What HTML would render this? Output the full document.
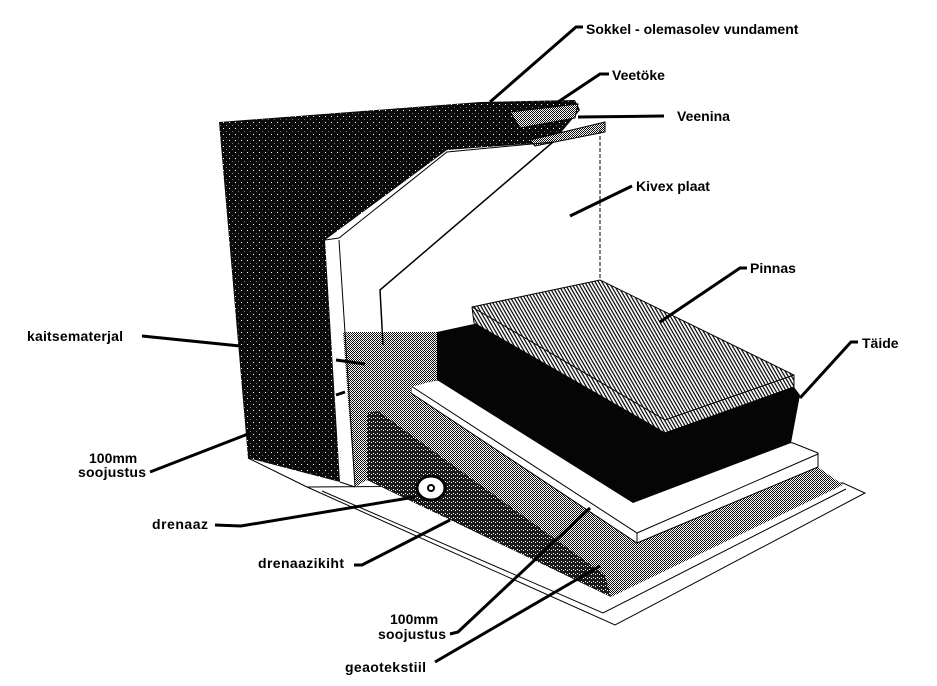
<!DOCTYPE html>
<html><head><meta charset="utf-8"><style>
html,body{margin:0;padding:0;background:#fff;}
svg{display:block;}
text{font-family:"Liberation Sans",Arial,sans-serif;font-weight:bold;font-size:14px;fill:#000;}
</style></head><body>
<svg width="937" height="686" viewBox="0 0 937 686" xmlns="http://www.w3.org/2000/svg">
<defs>
<pattern id="dk" width="6" height="6" patternUnits="userSpaceOnUse">
<rect width="6" height="6" fill="#0a0a0a"/><rect x="1" y="2" width="1" height="1" fill="#fff"/><rect x="4" y="5" width="1" height="1" fill="#777"/>
</pattern>
<pattern id="gr" width="4" height="4" patternUnits="userSpaceOnUse">
<rect width="4" height="4" fill="#fff"/><rect x="0" y="0" width="1" height="1" fill="#000"/><rect x="2" y="0" width="1" height="1" fill="#000"/><rect x="1" y="1" width="1" height="1" fill="#000"/><rect x="3" y="1" width="1" height="1" fill="#222"/><rect x="0" y="2" width="1" height="1" fill="#000"/><rect x="2" y="2" width="1" height="1" fill="#333"/><rect x="1" y="3" width="1" height="1" fill="#000"/><rect x="3" y="3" width="1" height="1" fill="#000"/>
</pattern>
<pattern id="dg" width="4" height="4" patternUnits="userSpaceOnUse">
<rect width="4" height="4" fill="#1a1a1a"/><rect x="1" y="1" width="1" height="1" fill="#fff"/><rect x="3" y="2" width="1" height="1" fill="#fff"/>
</pattern>
<pattern id="ht" width="3" height="3" patternUnits="userSpaceOnUse" patternTransform="rotate(60)">
<rect width="3" height="3" fill="#fff"/><rect width="3" height="1.2" fill="#000"/>
</pattern>
</defs>

<polygon points="307,487 615,625 865,493 843,483" fill="none" stroke="#000" stroke-width="1"/>
<polyline points="322,491 603,613 846,489" fill="none" stroke="#000" stroke-width="1"/>

<polygon points="367,412 411,402 411,393 637,543 818,467 843,485 611,597 367,480" fill="url(#gr)"/>
<polygon points="367,413 378,411 605,575 611,597 367,480" fill="url(#dg)"/>
<polygon points="411,385 437,380 793,443 818,453 818,467 637,543 411,393" fill="#fff" stroke="#000" stroke-width="1"/>
<line x1="411" y1="386" x2="637" y2="533" stroke="#000"/>
<line x1="637" y1="533" x2="818" y2="454" stroke="#000"/>
<line x1="637" y1="533" x2="637" y2="543" stroke="#000"/>

<polygon points="343,332 437,332 437,380 411,387 411,402 367,412 367,480 355,487 348,400" fill="url(#gr)"/>

<polygon points="437,332 474,324 794,387 800,395 791,443 633,503 437,380" fill="#050505"/>
<polygon points="472,307 600,280 794,375 794,387 665,433 474,323" fill="url(#ht)" stroke="#000" stroke-width="1"/>
<polyline points="472,307 665,420 794,375" fill="none" stroke="#000" stroke-width="1"/>

<polygon points="219,122 480,102 575,100 580,110 553,142 447,150 325,240 340,482 248,458" fill="url(#dk)"/>
<polygon points="510,112 578,104 575,118 520,128" fill="url(#gr)" stroke="#000"/>
<polygon points="530,140 605,122 605,132 535,146" fill="url(#gr)" stroke="#000"/>
<polyline points="325,240 339,238 447,152 553,142" fill="none" stroke="#000" stroke-width="1"/>
<line x1="339" y1="240" x2="355" y2="487" stroke="#000"/>
<line x1="340" y1="482" x2="355" y2="487" stroke="#000"/>
<polyline points="553,142 380,290 383,345" fill="none" stroke="#000" stroke-width="1.5"/>
<line x1="600" y1="130" x2="600" y2="280" stroke="#000" stroke-dasharray="4,2"/>
<line x1="248" y1="458" x2="307" y2="487" stroke="#000"/>

<ellipse cx="431" cy="488" rx="14" ry="12" fill="#fff" stroke="#000" stroke-width="3"/>
<circle cx="431" cy="488" r="3" fill="none" stroke="#000" stroke-width="2"/>

<g stroke="#000" stroke-width="3" fill="none">
<polyline points="583,27 576,27 490,102"/>
<polyline points="609,74 600,74 555,104"/>
<line x1="664" y1="116" x2="578" y2="117"/>
<line x1="632" y1="186" x2="570" y2="216"/>
<polyline points="747,268 740,268 660,322"/>
<polyline points="858,342 851,342 800,398"/>
<line x1="142" y1="336" x2="240" y2="346"/>
<line x1="336" y1="360" x2="365" y2="364"/>
<line x1="336" y1="395" x2="345" y2="392"/>
<line x1="150" y1="472" x2="248" y2="434"/>
<polyline points="215,525 241,526 415,497"/>
<polyline points="354,565 362,565 450,520"/>
<polyline points="450,634 458,632 590,508"/>
<line x1="435" y1="662" x2="600" y2="566"/>
</g>

<text x="586" y="34">Sokkel - olemasolev vundament</text>
<text x="612" y="80">Veetöke</text>
<text x="677" y="121">Veenina</text>
<text x="636" y="191">Kivex plaat</text>
<text x="750" y="273">Pinnas</text>
<text x="862" y="348">Täide</text>
<text x="27" y="341" textLength="96">kaitsematerjal</text>
<text x="89" y="463">100mm</text>
<text x="78" y="477" textLength="68">soojustus</text>
<text x="152" y="529" textLength="56">drenaaz</text>
<text x="258" y="568" textLength="86">drenaazikiht</text>
<text x="390" y="624">100mm</text>
<text x="378" y="639" textLength="68">soojustus</text>
<text x="345" y="672" textLength="81">geaotekstiil</text>
</svg>
</body></html>
